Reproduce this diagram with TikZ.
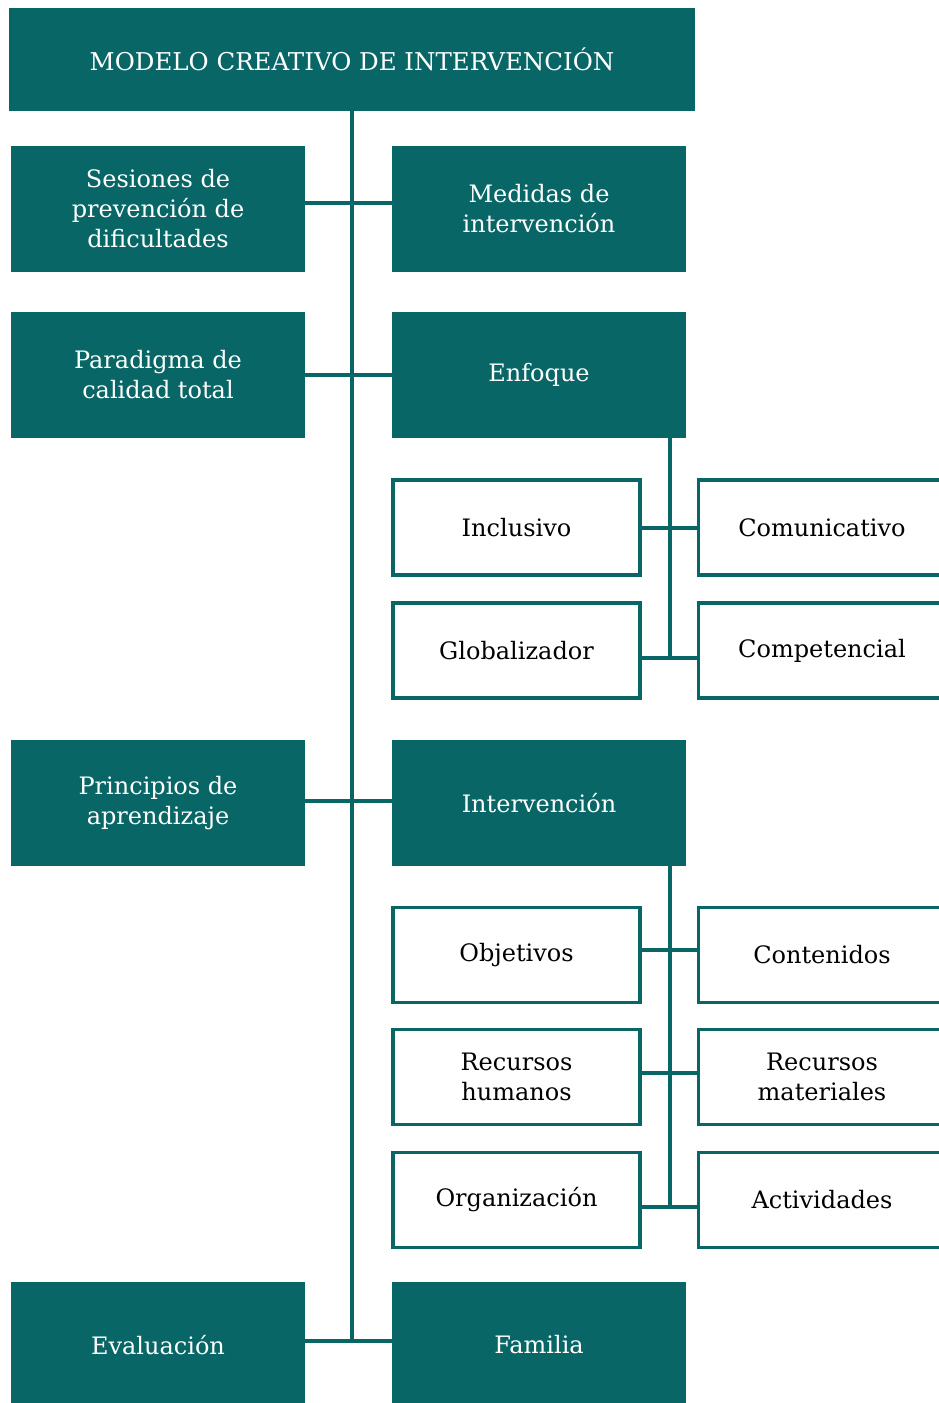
\documentclass[tikz,border=0pt]{standalone}
\usepackage{fontspec}
\setmainfont{DejaVu Serif}
\definecolor{teal1}{RGB}{9,102,103}
\begin{document}
\begin{tikzpicture}[x=1pt,y=-1pt,
  txt/.style={font=\fontsize{24}{30}\selectfont,align=center,inner sep=0pt},
  dk/.style={txt,fill=teal1,draw=none,text=white,minimum width=294pt,minimum height=126pt},
  wl/.style={txt,draw=teal1,line width=3.5pt,fill=white,text=black,minimum width=247pt,minimum height=95pt},
  ln/.style={draw=teal1,line width=4.5pt}]
\useasboundingbox (0,0) rectangle (939,1403);
\clip (0,0) rectangle (939,1403);
% main boxes
\node[dk,minimum width=686pt,minimum height=103pt,font=\fontsize{24.5}{30}\selectfont] (title) at (352,59.5) {MODELO CREATIVO DE INTERVENCIÓN};
\node[dk] (ses) at (158,209) {Sesiones de\\prevención de\\dificultades};
\node[dk] (med) at (539,209) {Medidas de\\intervención};
\node[dk] (par) at (158,375) {Paradigma de\\calidad total};
\node[dk] (enf) at (539,375) {Enfoque};
\node[dk] (pri) at (158,803) {Principios de\\aprendizaje};
\node[dk] (int) at (539,803) {Intervención};
\node[dk] (eva) at (158,1345) {Evaluación};
\node[dk] (fam) at (539,1345) {Familia};
% white boxes
\node[wl] (inc) at (516.5,527.5) {Inclusivo};
\node[wl] (com) at (822,527.5) {Comunicativo};
\node[wl] (glo) at (516.5,650.5) {Globalizador};
\node[wl] (cpt) at (822,650.5) {Competencial};
\node[wl] (obj) at (516.5,955) {Objetivos};
\node[wl] (con) at (822,955) {Contenidos};
\node[wl] (rhu) at (516.5,1077) {Recursos\\humanos};
\node[wl] (rma) at (822,1077) {Recursos\\materiales};
\node[wl] (org) at (516.5,1200) {Organización};
\node[wl] (act) at (822,1200) {Actividades};
% junctions
\coordinate (j1) at (352,203);
\coordinate (j2) at (352,375);
\coordinate (j3) at (352,801);
\coordinate (j4) at (352,1341);
\coordinate (ea) at (670,528);
\coordinate (eb) at (670,658);
\coordinate (ia) at (670,950);
\coordinate (ib) at (670,1073);
\coordinate (ic) at (670,1207);
% connectors
\draw[ln] (title.south) -- (j4);
\draw[ln] (ses.east|-j1) -- (med.west|-j1);
\draw[ln] (par.east|-j2) -- (enf.west|-j2);
\draw[ln] (pri.east|-j3) -- (int.west|-j3);
\draw[ln] (eva.east|-j4) -- (fam.west|-j4);
\draw[ln] (enf.south-|eb) -- (eb);
\draw[ln] (inc.east|-ea) -- (com.west|-ea);
\draw[ln] (glo.east|-eb) -- (cpt.west|-eb);
\draw[ln] (int.south-|ic) -- (ic);
\draw[ln] (obj.east|-ia) -- (con.west|-ia);
\draw[ln] (rhu.east|-ib) -- (rma.west|-ib);
\draw[ln] (org.east|-ic) -- (act.west|-ic);
\end{tikzpicture}
\end{document}
